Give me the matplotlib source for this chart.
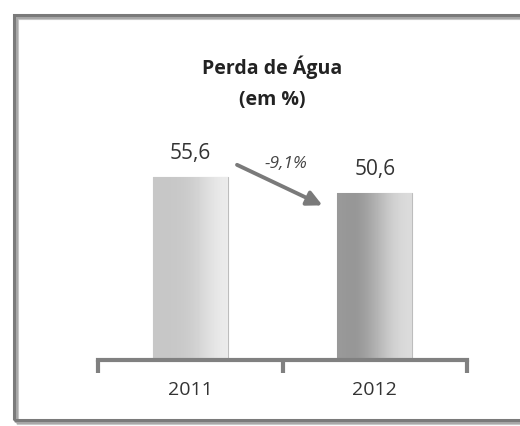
import numpy as np
import matplotlib.pyplot as plt
import matplotlib.patches as patches

years = ['2011', '2012']
perda = [55.6, 50.6]
labels = ['55,6', '50,6']
variacao = '-9,1%'

plt.rcParams['font.family'] = ['Open Sans', 'DejaVu Sans']

fig = plt.figure(figsize=(5.2, 4.26), dpi=100)
fig.patch.set_facecolor('white')

# outer frame with a soft shadow
for off, c, lw in [(3, '#d0d0d0', 3), (1.5, '#a8a8a8', 2.5), (0, '#7a7a7a', 2.2)]:
    fr = patches.Rectangle((14 / 520 + off / 520, 6 / 426 - off / 426), 1.2, 405 / 426,
                           transform=fig.transFigure, fill=False, ec=c, lw=lw,
                           clip_on=False)
    fig.add_artist(fr)

ax = fig.add_axes([98 / 520, 66 / 426, 369 / 520, 231 / 426])
x = np.arange(len(years))
w = 0.405

bars = ax.bar(x, perda, width=w, color=['#c8c8c8', '#a8a8a8'], edgecolor='#bdbdbd',
              linewidth=0.8, zorder=2)

# gradients inside the bars
grad1 = np.array([[0.78, 0.78, 0.79, 0.82, 0.88, 0.92]])
grad2 = np.array([[0.60, 0.58, 0.64, 0.73, 0.82, 0.86]])
for b, g in zip(bars, [grad1, grad2]):
    x0, y0 = b.get_x(), b.get_y()
    im = ax.imshow(g, cmap='gray', vmin=0, vmax=1, aspect='auto',
                   extent=[x0, x0 + b.get_width(), y0, y0 + b.get_height()],
                   interpolation='bicubic', zorder=2.5)
    im.set_clip_path(b)

for xi, v, t in zip(x, perda, labels):
    ax.text(xi, v + 3.8, t, ha='center', va='bottom', fontsize=15, color='#333333')

ax.annotate('', xy=(0.73, 46.5), xytext=(0.24, 59.5),
            arrowprops=dict(arrowstyle='-|>,head_length=0.9,head_width=0.45',
                            color='#7a7a7a', lw=2.8))
ax.text(0.52, 59.5, variacao, ha='center', va='center', fontsize=12.5,
        style='italic', color='#444444')

ax.set_xlim(-0.5, 1.5)
ax.set_ylim(0, 70)
ax.set_xticks(x)
ax.set_xticklabels(years, fontsize=14, color='#333333')
ax.tick_params(axis='x', which='major', length=0, pad=15)
ax.set_xticks([-0.5, 0.5, 1.5], minor=True)
ax.tick_params(axis='x', which='minor', length=9, width=3, color='#808080',
               direction='out')
ax.set_yticks([])
for s in ['top', 'right', 'left']:
    ax.spines[s].set_visible(False)
ax.spines['bottom'].set_color('#808080')
ax.spines['bottom'].set_linewidth(3)
ax.set_facecolor('none')

fig.text(272 / 520, 1 - 67 / 426, 'Perda de Água', ha='center', va='center',
         fontsize=14, fontweight='bold', color='#222222')
fig.text(272 / 520, 1 - 100 / 426, '(em %)', ha='center', va='center',
         fontsize=14, fontweight='bold', color='#222222')

fig.savefig('out.png', dpi=100)
